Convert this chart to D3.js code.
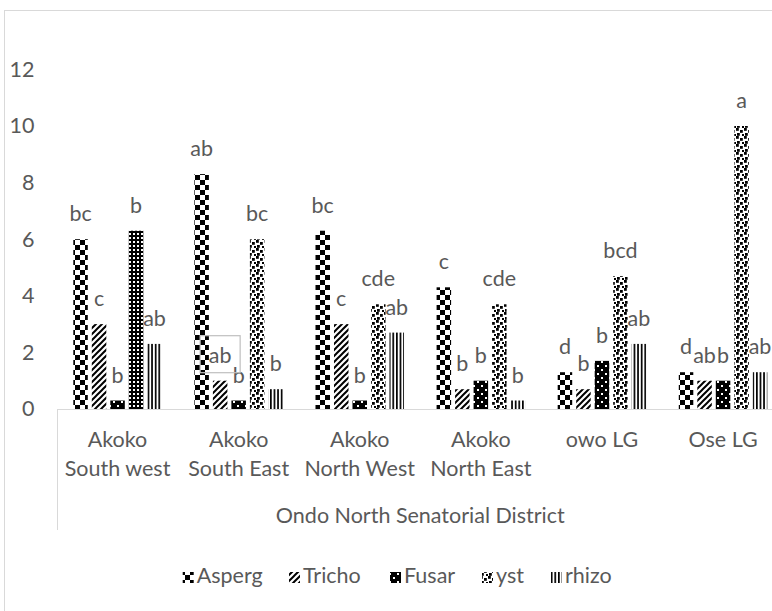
<!DOCTYPE html>
<html>
<head>
<meta charset="utf-8">
<script src="https://cdn.jsdelivr.net/npm/d3@7"></script>
<style>
  body { margin: 0; background: #fff; }
  svg { display: block; font-family: Lato, "Open Sans", sans-serif; }
  .lbl { fill: #595959; font-size: 21.5px; }
</style>
</head>
<body>
<div id="app"></div>
<script>
// chart data
const categories = ["Akoko South west", "Akoko South East", "Akoko North West", "Akoko North East", "owo LG", "Ose LG"];
const categoryLines = [["Akoko", "South west"], ["Akoko", "South East"], ["Akoko", "North West"], ["Akoko", "North East"], ["owo LG"], ["Ose LG"]];
const groupLabel = "Ondo North Senatorial District";
const seriesNames = ["Asperg", "Tricho", "Fusar", "yst", "rhizo"];

const asperg = [6.0, 8.3, 6.3, 4.3, 1.3, 1.3];
const tricho = [3.0, 1.0, 3.0, 0.7, 0.7, 1.0];
const fusar = [0.3, 0.3, 0.3, 1.0, 1.7, 1.0];
const yst = [6.3, 6.0, 3.7, 3.7, 4.7, 10.0];
const rhizo = [2.3, 0.7, 2.7, 0.3, 2.3, 1.3];

const aspergLetters = ["bc", "ab", "bc", "c", "d", "d"];
const trichoLetters = ["c", "ab", "c", "b", "b", "ab"];
const fusarLetters = ["b", "b", "b", "b", "b", "b"];
const ystLetters = ["b", "bc", "cde", "cde", "bcd", "a"];
const rhizoLetters = ["ab", "b", "ab", "b", "ab", "ab"];

const yTicks = [0, 2, 4, 6, 8, 10, 12];

const seriesValues = [asperg, tricho, fusar, yst, rhizo];
const seriesLetters = [aspergLetters, trichoLetters, fusarLetters, ystLetters, rhizoLetters];

const width = 772;
const height = 611;

const svg = d3.select("#app").append("svg")
  .attr("width", width)
  .attr("height", height);

// fill patterns
const defs = svg.append("defs");
function pattern(id, w, h) {
  const p = defs.append("pattern")
    .attr("id", id)
    .attr("patternUnits", "userSpaceOnUse")
    .attr("width", w)
    .attr("height", h);
  return p;
}

let p = pattern("pat-Asperg", 10, 10);
p.append("rect").attr("width", 10).attr("height", 10).attr("fill", "#fff");
p.append("rect").attr("width", 5).attr("height", 5).attr("fill", "#000");
p.append("rect").attr("x", 5).attr("y", 5).attr("width", 5).attr("height", 5).attr("fill", "#000");

p = pattern("pat-Tricho", 6, 6);
p.append("rect").attr("width", 6).attr("height", 6).attr("fill", "#fff");
p.append("path").attr("d", "M-1,1 L1,-1 M0,6 L6,0 M5,7 L7,5")
  .attr("stroke", "#000").attr("stroke-width", 2);

p = pattern("pat-Fusar", 8, 8);
p.append("rect").attr("width", 8).attr("height", 8).attr("fill", "#000");
p.append("rect").attr("x", 1).attr("y", 1).attr("width", 2).attr("height", 2).attr("fill", "#fff");
p.append("rect").attr("x", 5).attr("y", 5).attr("width", 2).attr("height", 2).attr("fill", "#fff");

p = pattern("pat-yst", 8, 8);
p.append("rect").attr("width", 8).attr("height", 8).attr("fill", "#fff");
[[0, 0], [4, 2], [1, 5], [6, 6]].forEach(([a, b]) => {
  p.append("rect").attr("x", a).attr("y", b).attr("width", 2.8).attr("height", 2.8).attr("fill", "#000");
});

p = pattern("pat-rhizo", 3.6, 4);
p.append("rect").attr("width", 3.6).attr("height", 4).attr("fill", "#fff");
p.append("rect").attr("width", 1.7).attr("height", 4).attr("fill", "#000");

p = pattern("pat-grid", 4, 4);
p.append("rect").attr("width", 4).attr("height", 4).attr("fill", "#000");
p.append("rect").attr("x", 1).attr("y", 1).attr("width", 2).attr("height", 2).attr("fill", "#fff");

// chart frame
svg.append("rect")
  .attr("x", 4.5).attr("y", 10.5)
  .attr("width", 900).attr("height", 700)
  .attr("fill", "none").attr("stroke", "#d9d9d9");

// scales
const x0 = d3.scaleBand()
  .domain(categories)
  .range([57, 783.6])
  .paddingInner(0.269)
  .paddingOuter(0.1345);

const x1 = d3.scaleBand()
  .domain(seriesNames)
  .range([0, x0.bandwidth()])
  .paddingInner(0.216);

const y = d3.scaleLinear()
  .domain([0, 12])
  .range([409, 69.4]);

// y axis labels
const yAxis = svg.append("g")
  .attr("transform", "translate(40,0)")
  .call(d3.axisLeft(y).tickValues(yTicks).tickSize(0).tickPadding(5.5));
yAxis.select(".domain").remove();
yAxis.selectAll("text").attr("class", "lbl").attr("fill", null).style("font-size", "21.5px").style("font-family", "Lato");

// bars
const data = [];
seriesNames.forEach((s, si) => {
  categories.forEach((c, ci) => {
    data.push({ series: s, cat: c, value: seriesValues[si][ci], letter: seriesLetters[si][ci] });
  });
});

svg.append("g")
  .selectAll("rect")
  .data(data)
  .enter()
  .append("rect")
  .attr("x", (d) => x0(d.cat) + x1(d.series))
  .attr("y", (d) => y(d.value))
  .attr("width", x1.bandwidth())
  .attr("height", (d) => y(0) - y(d.value))
  .attr("fill", (d) => (d.series === "yst" && d.cat === categories[0]) ? "url(#pat-grid)" : `url(#pat-${d.series})`);

// x axis (category line)
const xAxis = svg.append("g")
  .attr("transform", "translate(0,409)")
  .call(d3.axisBottom(x0).tickSize(0).tickSizeOuter(0).tickFormat(""));
xAxis.select(".domain").attr("stroke", "#d9d9d9");

svg.append("line")
  .attr("x1", 57.5).attr("x2", 57.5)
  .attr("y1", 409).attr("y2", 530)
  .attr("stroke", "#d9d9d9");

categories.forEach((c, ci) => {
  const cx = x0(c) + x0.bandwidth() / 2;
  categoryLines[ci].forEach((line, li) => {
    svg.append("text")
      .attr("class", "lbl")
      .attr("x", cx)
      .attr("y", 447 + li * 29)
      .attr("text-anchor", "middle")
      .text(line);
  });
});

svg.append("text")
  .attr("class", "lbl")
  .attr("x", (x0.range()[0] + x0.range()[1]) / 2)
  .attr("y", 523)
  .attr("text-anchor", "middle")
  .text(groupLabel);

// data labels
svg.append("g")
  .selectAll("text")
  .data(data)
  .enter()
  .append("text")
  .attr("class", "lbl")
  .attr("x", (d) => x0(d.cat) + x1(d.series) + x1.bandwidth() / 2)
  .attr("y", (d) => y(d.value) - 18)
  .attr("text-anchor", "middle")
  .text((d) => d.letter);

// boxed label (Tricho, Akoko South East)
const boxX = x0(categories[1]) + x1("Tricho") + x1.bandwidth() / 2;
const boxY = y(tricho[1]) - 18;
svg.append("rect")
  .attr("x", boxX - 20).attr("y", boxY - 27)
  .attr("width", 40).attr("height", 37)
  .attr("fill", "none").attr("stroke", "#bfbfbf").attr("stroke-width", 1.2);

// legend
const legendX = [182.7, 289, 390, 482, 551];
const legend = svg.append("g").attr("id", "legend");
seriesNames.forEach((s, i) => {
  legend.append("rect")
    .attr("x", legendX[i]).attr("y", 572)
    .attr("width", 11).attr("height", 11)
    .attr("fill", `url(#pat-${s})`);
  legend.append("text")
    .attr("class", "lbl")
    .attr("x", legendX[i] + 14)
    .attr("y", 583.3)
    .text(s);
});
</script>
</body>
</html>
